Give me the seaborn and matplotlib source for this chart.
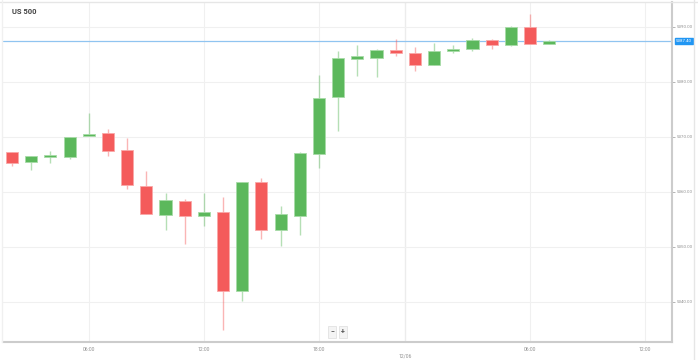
import matplotlib
matplotlib.use("Agg")
import matplotlib.pyplot as plt
import matplotlib.transforms as mtransforms
import numpy as np
import pandas as pd
import seaborn as sns

# hourly candles, 11/06 02:00 -> 22:00, then 12/06 00:00 -> 07:00
hours = ["02:00", "03:00", "04:00", "05:00", "06:00", "07:00", "08:00",
         "09:00", "10:00", "11:00", "12:00", "13:00", "14:00", "15:00",
         "16:00", "17:00", "18:00", "19:00", "20:00", "21:00", "22:00",
         "00:00", "01:00", "02:00", "03:00", "04:00", "05:00", "06:00",
         "07:00"]
days = ["11/06"] * 21 + ["12/06"] * 8

opens = [5367.2, 5365.4, 5366.4, 5366.4, 5370.1, 5370.7, 5367.6, 5361.0,
         5355.8, 5358.4, 5355.6, 5356.3, 5342.0, 5361.8, 5353.1, 5355.6,
         5366.9, 5377.2, 5384.2, 5384.3, 5385.8, 5385.3, 5383.0, 5385.6,
         5386.0, 5387.6, 5386.6, 5390.0, 5386.9]
highs = [5367.3, 5366.5, 5367.5, 5370.0, 5374.3, 5371.5, 5369.7, 5363.8,
         5359.8, 5358.7, 5359.8, 5359.0, 5361.8, 5362.5, 5357.5, 5367.2,
         5381.3, 5385.6, 5386.6, 5385.9, 5387.8, 5386.4, 5387.1, 5386.6,
         5387.9, 5387.8, 5390.1, 5392.4, 5387.6]
lows = [5364.7, 5364.0, 5365.2, 5366.0, 5370.1, 5366.5, 5360.5, 5355.9,
        5353.0, 5350.5, 5353.7, 5334.9, 5340.1, 5351.5, 5350.2, 5352.2,
        5364.3, 5371.1, 5381.1, 5380.8, 5384.6, 5381.9, 5383.0, 5385.2,
        5385.6, 5386.0, 5386.5, 5386.8, 5386.9]
closes = [5365.2, 5366.5, 5366.4, 5370.0, 5370.5, 5367.4, 5361.2, 5356.0,
          5358.6, 5355.6, 5356.4, 5342.0, 5361.8, 5353.1, 5355.9, 5367.0,
          5377.0, 5384.3, 5384.6, 5385.8, 5385.3, 5383.0, 5385.6, 5386.0,
          5387.6, 5386.6, 5389.9, 5386.9, 5387.4]
last_price = 5387.40

y_ticks = [5340, 5350, 5360, 5370, 5380, 5390]
x_tick_labels = ["06:00", "12:00", "18:00", "06:00", "12:00"]

df = pd.DataFrame({"hour": hours, "day": days, "open": opens, "high": highs,
                   "low": lows, "close": closes})
df["pos"] = np.arange(len(df))
df["up"] = df["close"] >= df["open"]

sns.set_style("white")
plt.rcParams["font.family"] = ["Roboto", "DejaVu Sans"]

GREEN = "#5cb85c"
RED = "#f45b5b"
GRID = "#f0f0f0"
LBL = "#909090"

fig = plt.figure(figsize=(6.98, 3.60), dpi=100)
ax = fig.add_axes([3 / 698, 18 / 360, 669 / 698, 340 / 360])

# wicks
for up, col in [(True, GREEN), (False, RED)]:
    sub = df[df["up"] == up]
    ax.vlines(sub["pos"], sub["low"], sub["high"], color=col, alpha=0.45,
              lw=1.0, zorder=2)

# bodies
body_bottom = df[["open", "close"]].min(axis=1)
body_h = (df["close"] - df["open"]).abs().clip(lower=0.35)
colors = [GREEN if u else RED for u in df["up"]]
edges = ["#a8dba8" if u else "#f9a8a8" for u in df["up"]]
ax.bar(df["pos"], body_h, bottom=body_bottom, width=0.63, color=colors,
       edgecolor=edges, linewidth=0.6, zorder=3)

# current price line
ax.axhline(last_price, color="#90c4f0", lw=0.9, zorder=1)

# x ticks: hour labels, extend timeline past the last candle
timeline = [(d, h) for d, h in zip(days, hours)]
for k in range(8, 13):
    timeline.append(("12/06", f"{k:02d}:00"))
tick_pos = []
for lab in x_tick_labels:
    for i, (d, h) in enumerate(timeline):
        if h == lab and i not in tick_pos:
            tick_pos.append(i)
            break
# day boundary between last candle of 11/06 and first of 12/06
day_break = days.index("12/06") - 0.5

ax.set_xlim(-0.47, 34.4)
ax.set_ylim(5332.7, 5394.5)

for p in tick_pos:
    ax.axvline(p, color=GRID, lw=0.8, zorder=0)
ax.axvline(day_break, color="#ececec", lw=1.0, zorder=0)
for yv in y_ticks:
    ax.axhline(yv, color=GRID, lw=0.8, zorder=0)

ax.set_xticks(tick_pos + [day_break])
ax.set_xticklabels(x_tick_labels + [""], fontsize=3.6, color=LBL)
ax.set_yticks(y_ticks)
ax.set_yticklabels([f"{v:.2f}" for v in y_ticks], fontsize=3.2, color=LBL)
ax.yaxis.tick_right()
ax.tick_params(axis="both", length=2, width=0.6, color="#aaaaaa", pad=1.5)

for s in ["top", "left"]:
    ax.spines[s].set_visible(False)
ax.spines["right"].set_color("#cccccc")
ax.spines["right"].set_linewidth(1.5)
ax.spines["bottom"].set_color("#cccccc")
ax.spines["bottom"].set_linewidth(1.5)

trans = mtransforms.blended_transform_factory(ax.transData, ax.transAxes)
ax.text(day_break, -0.035, "12/06", transform=trans, ha="center", va="top",
        fontsize=3.6, color=LBL)

# price tag on right
ax.annotate(f"{last_price:.2f}", xy=(1.0, last_price),
            xycoords=("axes fraction", "data"), xytext=(2.8, 0),
            textcoords="offset points", ha="left", va="center", fontsize=3.2,
            color="white",
            bbox=dict(boxstyle="square,pad=0.3", fc="#2196f3", ec="#2196f3"))

# title
fig.text(12 / 698, 1 - 12 / 360, "US 500", fontsize=5.5, fontweight="bold",
         color="#444444", ha="left", va="center")

# zoom buttons
for xpix, sym in [(332, "\u2212"), (343, "+")]:
    fig.text(xpix / 698, 1 - 332 / 360, sym, fontsize=5, color="#555555",
             ha="center", va="center", fontweight="bold",
             bbox=dict(boxstyle="square,pad=0.35", fc="#f4f4f4", ec="#dddddd",
                       lw=0.5))

# outer frame lines
fig.add_artist(plt.Line2D([0, 1], [1 - 1.5 / 360] * 2, color="#e6e6e6", lw=1))
fig.add_artist(plt.Line2D([694 / 698] * 2, [0, 1], color="#e6e6e6", lw=1))
fig.add_artist(plt.Line2D([2 / 698] * 2, [18 / 360, 1], color="#f0f0f0", lw=1))

fig.savefig("out.png", dpi=100, facecolor="white")
